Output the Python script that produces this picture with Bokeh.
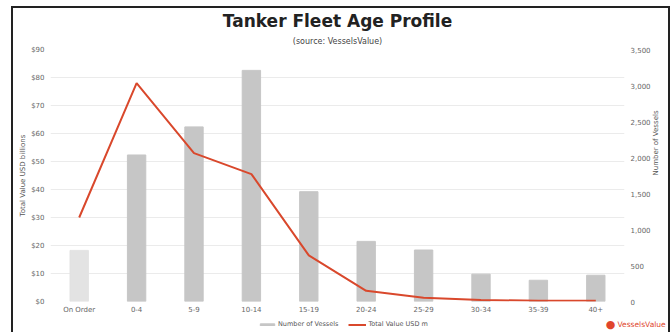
import math
from bokeh.plotting import figure
from bokeh.layouts import column
from bokeh.models import (Range1d, LinearAxis, NumeralTickFormatter, Legend, LegendItem,
                          Title, Label, FactorRange, ColumnDataSource, FixedTicker)
from bokeh.embed import file_html
from bokeh.resources import INLINE

categories = ["On Order", "0-4", "5-9", "10-14", "15-19", "20-24", "25-29", "30-34", "35-39", "40+"]
vessels = [710, 2035, 2425, 3210, 1525, 835, 715, 380, 295, 365]
value_bn = [30.0, 78.0, 53.0, 45.5, 16.5, 3.8, 1.3, 0.5, 0.3, 0.3]
bar_colors = ["#e3e3e3"] + ["#c6c6c6"] * 9
left_ticks = [0, 10, 20, 30, 40, 50, 60, 70, 80, 90]
right_ticks = [0, 500, 1000, 1500, 2000, 2500, 3000, 3500]

FONT = "DejaVu Sans"
TICK_C = "#666666"
BAR_C = "#c6c6c6"
LINE_C = "#d9482c"

W = 655
H_MAIN, H_STRIP = 309, 15
FL, FR, FT, FB = 37, 44, 41, 16  # frame borders of main figure

src = ColumnDataSource(dict(cat=categories, vessels=vessels, value=value_bn, color=bar_colors))

p = figure(x_range=FactorRange(*categories, range_padding=0), y_range=Range1d(0, 90),
           width=W, height=H_MAIN, output_backend="svg", toolbar_location=None, title=None,
           min_border_left=FL, min_border_right=FR, min_border_top=FT, min_border_bottom=FB)
p.extra_y_ranges = {"vessels": Range1d(0, 3500)}
p.outline_line_color = None
p.background_fill_color = "white"
p.border_fill_color = "white"

p.yaxis.ticker = FixedTicker(ticks=left_ticks)
p.yaxis.formatter = NumeralTickFormatter(format="$0")
p.yaxis.axis_label = "Total Value USD billions"

raxis = LinearAxis(y_range_name="vessels", ticker=FixedTicker(ticks=right_ticks),
                   formatter=NumeralTickFormatter(format="0,0"), axis_label="Number of Vessels")
p.add_layout(raxis, "right")

for ax in [p.xaxis[0], p.yaxis[0], raxis]:
    ax.axis_line_color = None
    ax.major_tick_line_color = None
    ax.minor_tick_line_color = None
    ax.major_tick_out = 0
    ax.major_tick_in = 0
    ax.minor_tick_out = 0
    ax.major_label_text_font = FONT
    ax.major_label_text_font_size = "7px"
    ax.major_label_text_color = TICK_C
    ax.axis_label_text_font = FONT
    ax.axis_label_text_font_size = "7px"
    ax.axis_label_text_font_style = "normal"
    ax.axis_label_text_color = "#555555"
p.xaxis.major_label_standoff = 4
p.yaxis.major_label_standoff = 6
raxis.major_label_standoff = 6
p.yaxis.axis_label_standoff = 1
raxis.axis_label_standoff = 2
try:
    raxis.axis_label_orientation = math.pi / 2
except Exception:
    pass

p.xgrid.grid_line_color = None
p.ygrid.ticker = FixedTicker(ticks=left_ticks)
p.ygrid.grid_line_color = "#ebebeb"
p.ygrid.grid_line_width = 1

bars = p.vbar(x="cat", top="vessels", width=0.32, fill_color="color", line_color="color",
              source=src, y_range_name="vessels")
line = p.line(x="cat", y="value", line_color=LINE_C, line_width=2, source=src)

# titles (closest to frame added first)
p.add_layout(Title(text="(source: VesselsValue)", align="center", text_font=FONT,
                   text_font_size="8px", text_font_style="normal", text_color="#444444",
                   standoff=8), "above")
p.add_layout(Title(text="Tanker Fleet Age Profile", align="center", text_font=FONT,
                   text_font_size="17px", text_font_style="bold", text_color="#222222",
                   standoff=0, text_line_height=0.8), "above")

# bottom strip: legend + logo (its view window lies away from the data, so only the keys show)
s = figure(x_range=Range1d(-5000, -5000 + W), y_range=Range1d(-5000, -5000 + H_STRIP),
           width=W, height=H_STRIP,
           output_backend="svg", toolbar_location=None, title=None,
           x_axis_location=None, y_axis_location=None,
           min_border_left=0, min_border_right=0, min_border_top=0, min_border_bottom=0)
try:
    s.frame_align = False
except Exception:
    pass
s.outline_line_color = None
s.xgrid.visible = False
s.ygrid.visible = False
s.background_fill_color = "white"
s.border_fill_color = "white"

bar_key = s.vbar(x="value", top="vessels", width=1, fill_color=BAR_C, line_color=BAR_C, source=src)
line_key = s.line(x="value", y="value", line_color=LINE_C, line_width=2, source=src)

legend = Legend(items=[LegendItem(label="Number of Vessels", renderers=[bar_key]),
                       LegendItem(label="Total Value USD m", renderers=[line_key])],
                orientation="horizontal", location=(245, 4),
                glyph_width=18, glyph_height=3, label_text_font=FONT,
                label_text_font_size="6.5px", label_text_color="#555555",
                border_line_color=None, background_fill_alpha=0, spacing=10,
                padding=0, margin=0, label_standoff=2, label_height=8)
s.add_layout(legend, "center")

s.add_layout(Label(x=597, y=8, x_units="screen", y_units="screen", text="\u25CF",
                   text_align="center", text_baseline="middle", text_font=FONT,
                   text_font_size="11px", text_color="#e0452c"))
s.add_layout(Label(x=604, y=8, x_units="screen", y_units="screen", text="VesselsValue",
                   text_align="left", text_baseline="middle", text_font=FONT,
                   text_font_size="7.5px", text_color="#e0452c"))

layout = column(p, s, spacing=0)
layout.margin = (6, 0, 0, 11)
layout.styles = {"border-left": "2px solid #222222", "border-top": "2px solid #222222",
                 "border-right": "2px solid #222222"}

open("out.html", "w").write(file_html(layout, INLINE))
